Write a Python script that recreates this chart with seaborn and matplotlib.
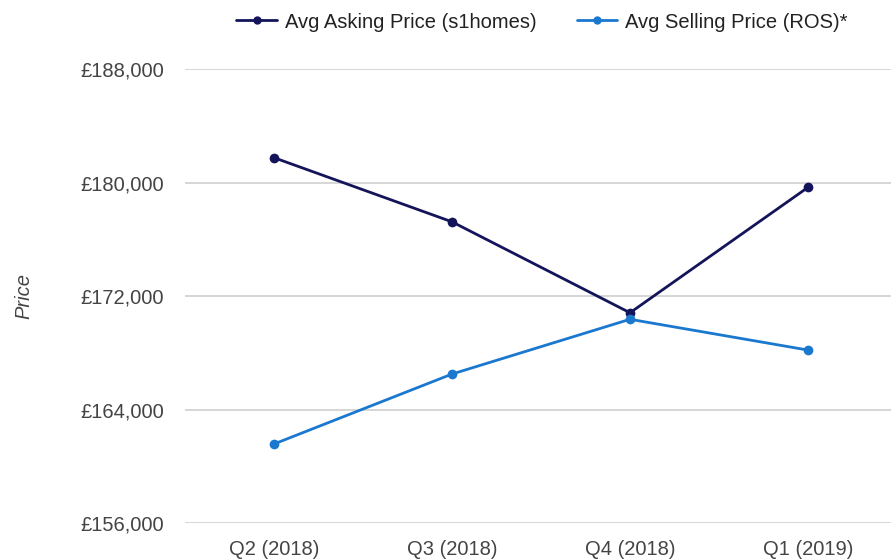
import numpy as np
import pandas as pd
import matplotlib.pyplot as plt
import seaborn as sns
from matplotlib.ticker import FuncFormatter

quarters = ["Q2 (2018)", "Q3 (2018)", "Q4 (2018)", "Q1 (2019)"]
asking = [181770, 177250, 170840, 179680]
selling = [161590, 166520, 170380, 168210]
series_names = ["Avg Asking Price (s1homes)", "Avg Selling Price (ROS)*"]
colors = ["#14145a", "#1a78cf"]

df = pd.DataFrame({
    "Quarter": quarters * 2,
    "Price": asking + selling,
    "Series": [series_names[0]] * 4 + [series_names[1]] * 4,
})

sns.set_style("white")
plt.rcParams['font.family'] = ['Liberation Sans', 'DejaVu Sans']
FS = 14.5

fig = plt.figure(figsize=(8.91, 5.59), dpi=100)
ax = fig.add_axes([185 / 891, 1 - 523.3 / 559, 712 / 891, 454 / 559])

sns.lineplot(data=df, x="Quarter", y="Price", hue="Series", palette=colors,
             marker="o", markersize=7, markeredgewidth=0, linewidth=2,
             sort=False, ax=ax, legend=False)

ax.set_xlim(-0.5, 3.5)
ax.set_ylim(156000, 188000)
ax.set_yticks([156000, 164000, 172000, 180000, 188000])
ax.yaxis.set_major_formatter(FuncFormatter(lambda v, p: f"£{int(v):,}"))
ax.grid(axis="y", color="#d0d0d0", linewidth=1.2)
ax.set_axisbelow(True)
for s in ax.spines.values():
    s.set_visible(False)
ax.tick_params(axis="both", length=0, labelsize=FS, labelcolor="#444444")
ax.tick_params(axis="y", pad=15)
ax.tick_params(axis="x", pad=12)
ax.set_xlabel("")
ax.set_ylabel("Price", fontsize=FS, color="#444444", style="italic", labelpad=34)

handles = [plt.Line2D([], [], color=c, marker="o", markersize=6, markeredgewidth=0, linewidth=2)
           for c in colors]
fig.legend(handles, series_names, loc="center", bbox_to_anchor=(542 / 891, 1 - 22 / 559),
           ncol=2, frameon=False, fontsize=FS, handlelength=2, columnspacing=2.0,
           handletextpad=0.4)
for t in fig.legends[0].get_texts():
    t.set_color("#222222")

fig.savefig("out.png", dpi=100)
